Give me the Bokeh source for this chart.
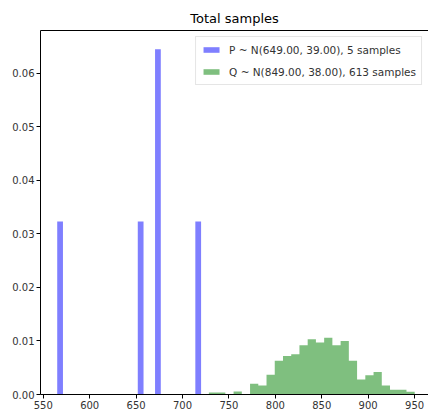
from bokeh.plotting import figure
from bokeh.models import ColumnDataSource, Range1d, LinearAxis, FixedTicker, Legend, LegendItem, NumeralTickFormatter
from bokeh.embed import file_html
from bokeh.resources import INLINE

# ---- data ----
title_text = "Total samples"
p_label = "P ~ N(649.00, 39.00), 5 samples"
q_label = "Q ~ N(849.00, 38.00), 613 samples"

p_bin_left = [565.0, 651.8, 670.4, 713.8]
p_bin_width = 6.2
p_density = [0.0323, 0.0323, 0.0645, 0.0323]

q_bin_start = 728.4
q_bin_width = 8.87
q_density = [0.00037, 0.00037, 0.0, 0.00055, 0.0, 0.0020, 0.0017, 0.0037,
             0.0063, 0.0072, 0.0075, 0.0092, 0.0103, 0.0097, 0.0106, 0.0092,
             0.0100, 0.0063, 0.0028, 0.0036, 0.0042, 0.0017, 0.0009, 0.0009,
             0.0005]

x_ticks = [550, 600, 650, 700, 750, 800, 850, 900, 950]
y_ticks = [0.00, 0.01, 0.02, 0.03, 0.04, 0.05, 0.06]

# ---- build sources ----
p_src = ColumnDataSource(dict(
    left=p_bin_left,
    right=[l + p_bin_width for l in p_bin_left],
    top=p_density,
    bottom=[0.0] * len(p_density),
))
# Q as one stepped area (edges + densities), so no seams between bins
q_edges = [q_bin_start + i * q_bin_width for i in range(len(q_density) + 1)]
q_src = ColumnDataSource(dict(
    x=q_edges,
    y1=[0.0] * len(q_edges),
    y2=q_density + [q_density[-1]],
))

FONT = "DejaVu Sans"

p = figure(width=428, height=416, output_backend="svg", toolbar_location=None,
           x_range=Range1d(547, 965), y_range=Range1d(0, 0.068),
           min_border_left=40, min_border_right=0, min_border_top=30,
           min_border_bottom=22)

p.title.text = title_text
p.title.align = "center"
p.title.text_font = FONT
p.title.text_font_size = "13px"
p.title.text_font_style = "normal"
p.title.text_color = "#000000"
p.title.offset = 0

p.outline_line_color = None
p.grid.visible = False
p.background_fill_color = "white"
p.border_fill_color = "white"

rp = p.quad(left="left", right="right", top="top", bottom="bottom", source=p_src,
            fill_color="#0000ff", fill_alpha=0.5, line_color=None)
rq = p.varea_step(x="x", y1="y1", y2="y2", source=q_src, step_mode="after",
                  fill_color="#008000", fill_alpha=0.5)

for ax in (p.xaxis[0], p.yaxis[0]):
    ax.axis_line_color = "#000000"
    ax.axis_line_width = 1
    ax.major_tick_line_color = "#000000"
    ax.major_tick_out = 4
    ax.major_tick_in = 0
    ax.minor_tick_line_color = None
    ax.major_label_text_font = FONT
    ax.major_label_text_font_size = "10px"
    ax.major_label_text_color = "#333333"
    ax.major_label_standoff = 2

p.xaxis[0].ticker = x_ticks
p.yaxis[0].ticker = y_ticks
p.yaxis[0].formatter = NumeralTickFormatter(format="0.00")

# top spine (axis line only, no ticks or labels)
top_axis = LinearAxis(ticker=FixedTicker(ticks=[]),
                      axis_line_color="#000000", axis_line_width=1,
                      major_tick_line_color=None, minor_tick_line_color=None,
                      major_label_standoff=0)
p.add_layout(top_axis, "above")

legend = Legend(items=[LegendItem(label=p_label, renderers=[rp]),
                       LegendItem(label=q_label, renderers=[rq])],
                location="top_right", margin=6, padding=5, spacing=7,
                glyph_width=20, glyph_height=7, label_height=15,
                label_standoff=8,
                label_text_font=FONT, label_text_font_size="10.5px",
                label_text_color="#333333",
                border_line_color="#cccccc", border_line_width=1,
                background_fill_color="white", background_fill_alpha=0.8)
p.add_layout(legend, "center")

open("out.html", "w").write(file_html(p, INLINE))
